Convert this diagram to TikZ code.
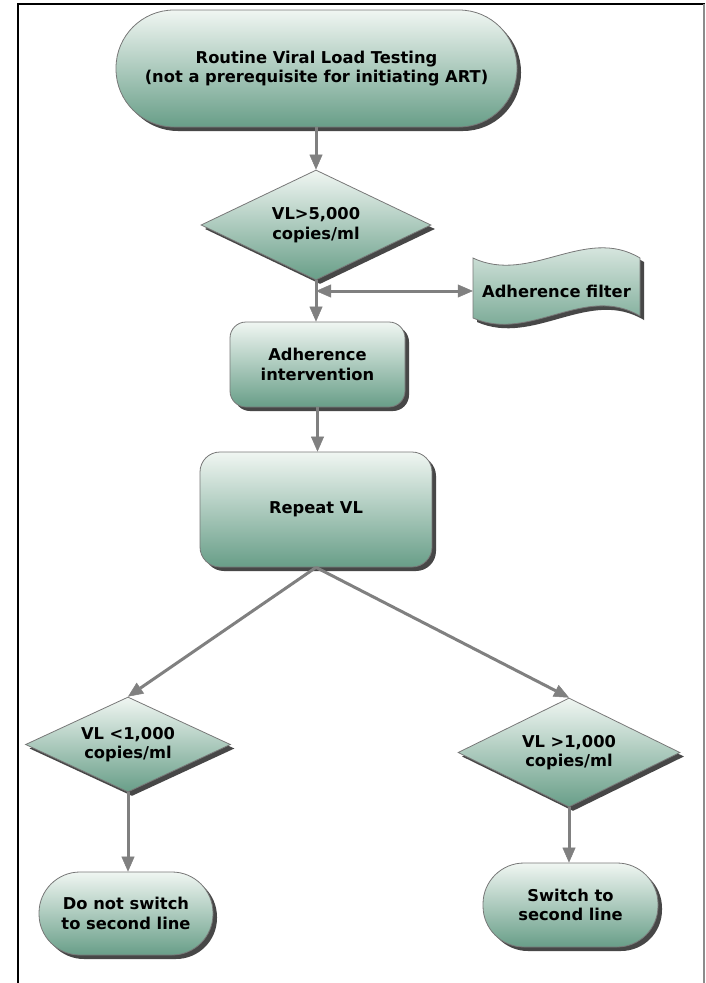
\documentclass[tikz,border=0pt]{standalone}
\usepackage{fontspec}
\setmainfont{DejaVu Sans}
\usetikzlibrary{shapes.geometric,shadows,arrows.meta}
\definecolor{topc}{RGB}{240,246,242}
\definecolor{botc}{RGB}{104,158,136}
\definecolor{edgec}{RGB}{120,120,120}
\definecolor{arrc}{RGB}{128,128,128}
\begin{document}
\begin{tikzpicture}[x=1pt,y=-1pt,
  box/.style={draw=edgec, line width=0.8pt, top color=topc, bottom color=botc,
    drop shadow={shadow xshift=4pt,shadow yshift=-4pt,fill=black!80,opacity=0.9},
    font=\bfseries\fontsize{16.3}{19.5}\selectfont, align=center, inner sep=0pt},
  term/.style={box, rectangle},
  proc/.style={box, rectangle, rounded corners=16pt},
  dec/.style={box, diamond},
  lbl/.style={font=\bfseries\fontsize{16.3}{19.5}\selectfont, align=center, inner sep=0pt},
  conn/.style={draw=arrc, line width=3pt, -{Triangle[width=13pt,length=15pt,line width=0.5pt]}},
  conn2/.style={draw=arrc, line width=3pt, {Triangle[width=13pt,length=15pt,line width=0.5pt]}-{Triangle[width=13pt,length=15pt,line width=0.5pt]}},
]
\useasboundingbox (0,0) rectangle (705,983);
\fill[white] (0,0) rectangle (705,983);
% frame
\draw[black, line width=2.5pt] (18,983) -- (18,4) -- (705,4);
\draw[black!45, line width=1.5pt] (704,4) -- (704,983);

% nodes
\node[term, rounded corners=58pt, minimum width=401pt, minimum height=117pt] (top) at (316.5,68.5)
  {Routine Viral Load Testing\\(not a prerequisite for initiating ART)};
\node[dec, aspect=2.1, minimum width=230pt, minimum height=110pt] (d1) at (316,225)
  {VL>5,000\\copies/ml};
\path[box] (473,258) .. controls (530,285) and (585,225) .. (640,258)
  -- (640,316) .. controls (585,283) and (530,343) .. (473,318) -- cycle;
\node[lbl, minimum width=167pt, minimum height=58pt] (filt) at (556.5,291) {Adherence filter};
\node[proc, minimum width=175pt, minimum height=85pt] (adh) at (317.5,364.5)
  {Adherence\\intervention};
\node[proc, rounded corners=20pt, minimum width=232pt, minimum height=115pt] (rep) at (316,509.5)
  {Repeat VL};
\node[dec, aspect=2.15, minimum width=205pt, minimum height=95pt] (d2) at (128,744.5)
  {VL <1,000\\copies/ml};
\node[dec, aspect=2.05, minimum width=222pt, minimum height=109pt] (d3) at (569,752.5)
  {VL >1,000\\copies/ml};
\node[term, rounded corners=41pt, minimum width=174pt, minimum height=83pt] (t2) at (126,913.5)
  {Do not switch\\to second line};
\node[term, rounded corners=41pt, minimum width=175pt, minimum height=84pt] (t3) at (570.5,905)
  {Switch to\\second line};

% connectors
\draw[conn] (d1.north |- top.south) -- (d1.north);
\draw[conn] (d1.south) -- (d1.south |- adh.north);
\coordinate (j) at (d1.south |- filt.west);
\draw[conn2] (j) -- (filt.west);
\draw[conn] (adh.south) -- (adh.south |- rep.north);
\draw[conn] (rep.south) -- (d2.north);
\draw[conn] (rep.south) -- (d3.north);
\draw[conn] (d2.south) -- (d2.south |- t2.north);
\draw[conn] (d3.south) -- (d3.south |- t3.north);
\end{tikzpicture}
\end{document}
